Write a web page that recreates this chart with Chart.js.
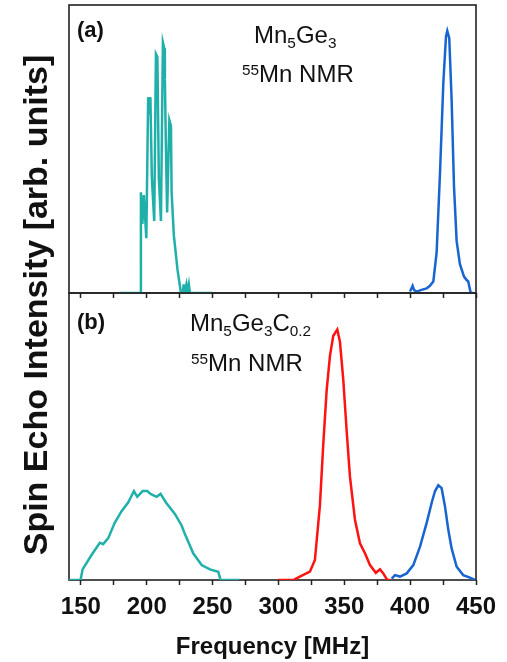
<!DOCTYPE html>
<html><head><meta charset="utf-8">
<script src="https://cdn.jsdelivr.net/npm/chart.js@4.4.1/dist/chart.umd.min.js"></script>
<style>
html,body{margin:0;padding:0;background:#fff;}
#wrap{position:relative;width:507px;height:662px;overflow:hidden;font-family:'Liberation Sans',Arial,sans-serif;color:#111;}
canvas{position:absolute;left:0;top:0;}
.t{position:absolute;font-size:24px;line-height:24px;white-space:nowrap;}
.t sub{font-size:0.64em;line-height:0;vertical-align:-5px;}
.t sup{font-size:0.64em;line-height:0;vertical-align:7px;}
.lab{position:absolute;font-size:22px;line-height:22px;font-weight:bold;}
#ytitle{position:absolute;left:35px;top:305px;width:620px;text-align:center;font-size:34px;line-height:34px;font-weight:bold;transform:translate(-50%,-50%) rotate(-90deg);white-space:nowrap;}
</style></head>
<body>
<div id="wrap">
<canvas id="cA" width="507" height="662"></canvas>
<canvas id="cB" width="507" height="662"></canvas>
<div class="lab" style="left:77px;top:19px;">(a)</div>
<div class="lab" style="left:77px;top:311px;">(b)</div>
<div class="t" style="left:254px;top:23px;">Mn<sub>5</sub>Ge<sub>3</sub></div>
<div class="t" style="left:242px;top:62px;"><sup>55</sup>Mn NMR</div>
<div class="t" style="left:190px;top:311px;">Mn<sub>5</sub>Ge<sub>3</sub>C<sub>0.2</sub></div>
<div class="t" style="left:191px;top:351px;"><sup>55</sup>Mn NMR</div>
<div id="ytitle">Spin Echo Intensity [arb. units]</div>
</div>
<script>
// ---- data (frequency in MHz, intensity in arb. units) ----
const xTickLabels = [150, 200, 250, 300, 350, 400, 450];

// Panel (a) Mn5Ge3
const freqA_teal = [179.6,195.3,195.6,196.7,197.8,199.7,201.1,202.0,202.8,203.9,205.7,207.0,208.1,209.2,210.8,212.3,213.3,213.8,214.6,215.5,217.2,218.4,218.9,220.6,223.4,226.0,227.5,228.0,228.6,230.1,230.9,232.0,232.8,250.3];
const intA_teal  = [0,0,0.35,0.24,0.34,0.19,0.68,0.62,0.68,0.40,0.25,0.83,0.82,0.40,0.25,0.87,0.85,0.74,0.50,0.28,0.60,0.58,0.35,0.20,0.08,0,0,0.03,0,0.03,0,0.03,0,0];

const freqA_blue = [399.9,401.9,403.0,405.0,408.0,412.5,415.0,417.6,420.1,422.7,425.2,427.2,428.2,429.7,431.5,433.3,435.3,437.8,440.9,442.9,444.1,446.0,448.0];
const intA_blue  = [0.005,0.025,0.01,0.005,0.01,0.016,0.025,0.04,0.14,0.42,0.73,0.89,0.91,0.885,0.67,0.37,0.18,0.10,0.057,0.045,0.04,0,0];

// Panel (b) Mn5Ge3C0.2
const freqB_teal = [140.4,149.8,151.3,158.1,164.4,166.9,170.7,175.8,180.9,185.9,190.3,192.8,196.9,200.4,202.9,207.5,210.5,214.6,221.4,226.5,229.0,235.3,241.7,248.0,254.3,256.1,270.2];
const intB_teal  = [0,0,0.037,0.087,0.13,0.125,0.145,0.20,0.24,0.27,0.31,0.29,0.31,0.31,0.30,0.29,0.30,0.27,0.23,0.19,0.16,0.093,0.052,0.037,0.029,0,0];

const freqB_red = [299.8,311.2,316.3,323.9,327.7,331.5,334.0,336.6,339.1,341.6,344.7,346.7,349.2,351.8,354.3,358.1,361.9,365.7,369.5,374.0,377.1,379.6,382.6,385.2];
const intB_red  = [0,0,0.012,0.029,0.07,0.26,0.47,0.66,0.78,0.85,0.873,0.83,0.70,0.52,0.36,0.21,0.128,0.093,0.052,0.025,0.037,0.023,0,0];

const freqB_blue = [386.0,388.5,392.3,397.4,402.4,407.5,412.6,416.4,418.9,421.4,423.9,426.5,429.0,431.5,435.3,440.3,445.4,449.2];
const intB_blue  = [0.005,0.017,0.012,0.023,0.052,0.116,0.20,0.27,0.31,0.33,0.32,0.255,0.174,0.11,0.046,0.017,0.008,0];

const colTeal = '#1fb0aa', colBlue = '#1865d2', colRed = '#ff1212';

function pts(xs, ys){ return xs.map((x,i)=>({x:x, y:ys[i]})); }
function ds(xs, ys, col){ return {data:pts(xs,ys), borderColor:col, borderWidth:2.5, pointRadius:0, showLine:true, tension:0}; }

Chart.defaults.font.family = "'Liberation Sans', Arial, sans-serif";
Chart.defaults.color = '#111';

const framePlugin = {
  id:'frame',
  beforeDatasetsDraw(chart){
    const {ctx, chartArea:{left,top,right,bottom}} = chart;
    ctx.save(); ctx.strokeStyle = '#222'; ctx.lineWidth = 1.6;
    ctx.strokeRect(left, top, right-left, bottom-top); ctx.restore();
  }
};

function makePanel(id, datasets, padTop, axisH, showLabels){
  return new Chart(document.getElementById(id), {
    type:'scatter',
    data:{datasets:datasets},
    plugins:[framePlugin],
    options:{
      responsive:false, animation:false, devicePixelRatio:1,
      layout:{padding:{left:69, right:31, top:padTop, bottom:0}},
      plugins:{legend:{display:false}, tooltip:{enabled:false}},
      scales:{
        x:{type:'linear', min:141, max:450, position:'bottom',
           afterFit:(s)=>{ s.height = axisH; },
           grid:{display:true, drawOnChartArea:false, drawTicks:true, tickLength:5, tickWidth:1.5, tickColor:'#222'},
           border:{display:false},
           ticks:{display:showLabels, stepSize:25, includeBounds:false, autoSkip:false, maxRotation:0, padding:8,
                  font:{size:24, weight:'bold'}, color:'#111',
                  callback:(v)=> xTickLabels.includes(v) ? String(v) : ''},
           title:{display:showLabels, text:'Frequency [MHz]', font:{size:24, weight:'bold'}, color:'#111', padding:{top:0,bottom:0}}
        },
        y:{type:'linear', min:0, max:1, display:false}
      }
    }
  });
}

makePanel('cA', [ds(freqA_teal,intA_teal,colTeal), ds(freqA_blue,intA_blue,colBlue)], 5, 662-293, false);
makePanel('cB', [ds(freqB_teal,intB_teal,colTeal), ds(freqB_red,intB_red,colRed), ds(freqB_blue,intB_blue,colBlue)], 293, 662-580, true);
</script>
</body></html>
